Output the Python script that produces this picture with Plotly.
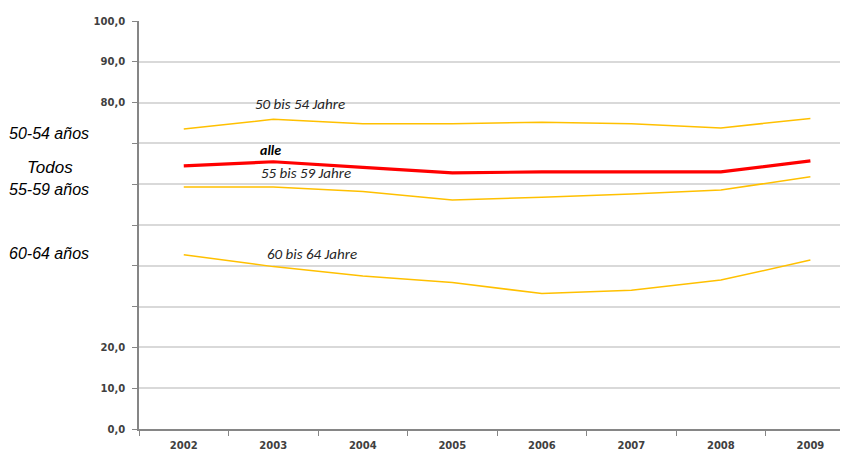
import plotly.graph_objects as go

years = ["2002", "2003", "2004", "2005", "2006", "2007", "2008", "2009"]
age_50_54 = [73.5, 75.9, 74.8, 74.8, 75.2, 74.8, 73.8, 76.1]
alle = [64.5, 65.5, 64.1, 62.8, 63.0, 63.0, 63.0, 65.7]
age_55_59 = [59.3, 59.3, 58.2, 56.1, 56.8, 57.6, 58.6, 61.8]
age_60_64 = [42.7, 39.8, 37.5, 35.9, 33.2, 34.0, 36.5, 41.4]

y_tickvals = [0, 10, 20, 30, 40, 50, 60, 70, 80, 90, 100]
y_ticktext = ["0,0", "10,0", "20,0", "", "", "", "", "", "80,0", "90,0", "100,0"]

fig = go.Figure()
orange = "#FFC000"
for vals in [age_50_54, age_55_59, age_60_64]:
    fig.add_trace(go.Scatter(x=years, y=vals, mode="lines",
                             line=dict(color=orange, width=1.5), showlegend=False))
fig.add_trace(go.Scatter(x=years, y=alle, mode="lines",
                         line=dict(color="#FF0000", width=3.2), showlegend=False))

inner_font = dict(family="Carlito, Liberation Sans", size=15, color="#262626", style="italic")
inner = [
    (1.3, 79.7, "50 bis 54 Jahre", {}),
    (0.97, 68.3, "alle", dict(weight="bold", color="#000000", size=14)),
    (1.37, 62.8, "55 bis 59 Jahre", {}),
    (1.43, 43.0, "60 bis 64 Jahre", {}),
]
for x, y, t, extra in inner:
    f = dict(inner_font)
    f.update(extra)
    fig.add_annotation(x=x, y=y, xref="x", yref="y", text=t, showarrow=False,
                       font=f, xanchor="center", yanchor="middle")

left_font = dict(family="Liberation Sans Narrow, Liberation Sans", size=16,
                 color="#000000", style="italic")
plot_left, plot_w = 139, 709
left = [
    (49, 72.5, "50-54 años", 16),
    (50, 64.0, "Todos", 17),
    (49, 58.8, "55-59 años", 16),
    (49, 42.9, "60-64 años", 16),
]
for px, y, t, sz in left:
    f = dict(left_font)
    f["size"] = sz
    fig.add_annotation(x=(px - plot_left) / plot_w, y=y, xref="paper", yref="y",
                       text=t, showarrow=False, font=f,
                       xanchor="center", yanchor="middle")

tick_font = dict(family="DejaVu Sans", size=10, color="#404040", weight="bold")
fig.update_layout(
    width=840, height=445,
    margin=dict(l=131, r=0, t=13, b=24),
    paper_bgcolor="white", plot_bgcolor="white",
    xaxis=dict(type="category", range=[-0.5, 7.42], tickson="boundaries",
               ticks="outside", ticklen=5, tickcolor="#868686",
               ticklabelstandoff=6,
               showline=True, linecolor="#868686", linewidth=1.5,
               showgrid=False, tickfont=tick_font, zeroline=False),
    yaxis=dict(range=[0, 100], tickvals=y_tickvals, ticktext=y_ticktext,
               ticks="outside", ticklen=5, tickcolor="#868686",
               ticklabelstandoff=5,
               showline=True, linecolor="#868686", linewidth=1.5,
               showgrid=True, gridcolor="#D9D9D9", gridwidth=1.5,
               zeroline=False, tickfont=tick_font),
)

fig.write_html("out.html")
